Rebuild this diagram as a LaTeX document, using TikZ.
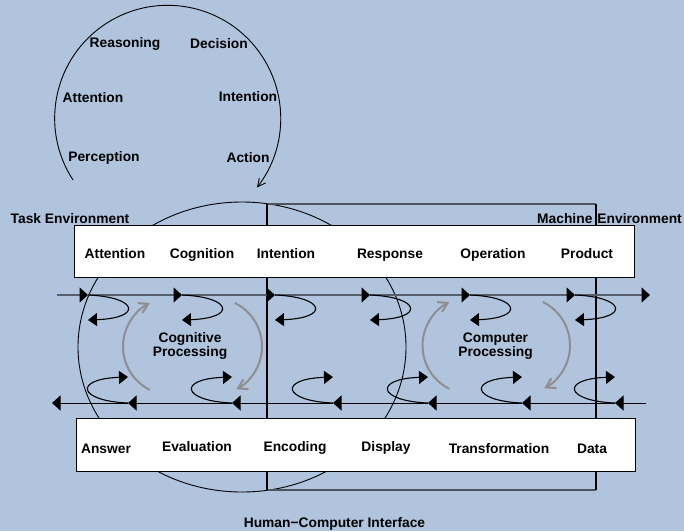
\documentclass[tikz,border=0pt]{standalone}
\usepackage{fontspec}
\setmainfont{Liberation Sans}
\usetikzlibrary{arrows.meta}
\definecolor{bgblue}{HTML}{B0C4DE}
\definecolor{railgray}{HTML}{56606C}
\definecolor{framegray}{HTML}{4C545E}
\definecolor{cyclegray}{HTML}{8E8E8E}
\begin{document}
\begin{tikzpicture}[x=1pt,y=-1pt,
  every node/.style={inner sep=0pt, font=\fontsize{13.8}{14}\selectfont\bfseries},
  lbl/.style={anchor=base},
  twoline/.style={anchor=base, align=center, font=\fontsize{13.8}{12}\selectfont\bfseries},
  stagebox/.style={draw=black, line width=0.9pt, fill=white},
  rail/.style={draw=railgray, line width=1.4pt},
  returnrail/.style={draw=black, line width=1pt},
  marker/.style={-{Triangle[length=8.5pt,width=15pt,color=black]}},
  loopline/.style={draw=black, line width=1.1pt, -{Triangle[length=9pt,width=13pt]}},
  cycle/.style={draw=cyclegray, line width=2pt, -{Straight Barb[length=9pt,width=11pt]}},
  outerloop/.style={draw=black, line width=0.9pt, -{Straight Barb[length=8pt,width=8pt]}}]

% canvas
\fill[bgblue] (0,0) rectangle (684,531);
\useasboundingbox (0,0) rectangle (684,531);

% ---- outer human cycle ----
\coordinate (cycstart) at (73,180);
\draw[outerloop] (cycstart) arc[start angle=146.9, end angle=397.8, radius=113];
\node[lbl] (reasoning)  at (125,47)  {Reasoning};
\node[lbl] (decision)   at (219,48)  {Decision};
\node[lbl] (attentionA) at (93,102)  {Attention};
\node[lbl] (intentionA) at (248,101) {Intention};
\node[lbl] (perception) at (104,161) {Perception};
\node[lbl] (action)     at (248,162) {Action};

% ---- environments ----
\draw[black, line width=0.9pt] (242,347) ellipse[x radius=164, y radius=145];
\draw[framegray, line width=1.6pt] (267,204) -- (596,204) (267,490) -- (596,490);
\draw[black, line width=1.1pt] (267,204) -- (267,490) (596,204) -- (596,490);

\node[lbl] (taskenv) at (70,223) {Task Environment};
\node[anchor=base east] (machenv) at (682,223) {Machine\hspace{1.2pt} Environment};
\node[lbl] (hci) at (334.5,527) {Human−Computer Interface};

% ---- stage boxes ----
\node[stagebox, minimum width=560pt, minimum height=52pt] (topbox) at (354,251) {};
\node[stagebox, minimum width=559pt, minimum height=53pt] (botbox) at (355.5,444.5) {};

\node[lbl] (sAttention) at (115,258) {Attention};
\node[lbl] (sCognition) at (202,258) {Cognition};
\node[lbl] (sIntention) at (286,258) {Intention};
\node[lbl] (sResponse)  at (390,258) {Response};
\node[lbl] (sOperation) at (493,258) {Operation};
\node[lbl] (sProduct)   at (587,258) {Product};

\node[lbl] (sAnswer)     at (106,453)   {Answer};
\node[lbl] (sEvaluation) at (197,451.5) {Evaluation};
\node[lbl] (sEncoding)   at (295,451.5) {Encoding};
\node[lbl] (sDisplay)    at (386,451.5) {Display};
\node[lbl] (sTransform)  at (499,453.5) {Transformation};
\node[lbl] (sData)       at (592,453)   {Data};

% ---- forward rail with feedback loops ----
\coordinate (tA) at (57,295);
\coordinate (tZ) at (650,295);
\foreach \i/\x in {1/88,2/182,3/275,4/370,5/470,6/575}{
  \coordinate (t\i) at (\x,295);
  \coordinate (u\i) at (\x,320);
}
\draw[rail, marker] (tA) -- (t1);
\foreach \a/\b in {1/2,2/3,3/4,4/5,5/6}
  \draw[rail, marker] (t\a) -- (t\b);
\draw[rail, marker] (t6) -- (tZ);
\foreach \i in {1,...,6}
  \draw[loopline] (t\i) .. controls +(50,2) and +(55,-2) .. (u\i);

% ---- return rail with feedback loops ----
\coordinate (bA) at (646,403);
\coordinate (bZ) at (52,403);
\foreach \i/\x in {1/128,2/232,3/333,4/428,5/522,6/615}{
  \coordinate (b\i) at (\x,403);
  \coordinate (v\i) at (\x,377);
}
\draw[returnrail, marker] (bA) -- (b6);
\foreach \a/\b in {6/5,5/4,4/3,3/2,2/1}
  \draw[returnrail, marker] (b\a) -- (b\b);
\draw[returnrail, marker] (b1) -- (bZ);
\foreach \i in {1,...,6}
  \draw[loopline] (b\i) .. controls +(-50,-2) and +(-55,2) .. (v\i);

% ---- processing cycles ----
\coordinate (cogL) at (171.5,346.5);
\coordinate (cogR) at (213.5,346.5);
\coordinate (cmpL) at (471,345.5);
\coordinate (cmpR) at (521.5,345.5);
\draw[cycle] (cogL) ++(116.6:48.5) arc[start angle=116.6, end angle=243.5, radius=48.5];
\draw[cycle] (cogR) ++(-64:48.5) arc[start angle=-64, end angle=62, radius=48.5];
\draw[cycle] (cmpL) ++(116.6:48.5) arc[start angle=116.6, end angle=243.5, radius=48.5];
\draw[cycle] (cmpR) ++(-64:48.5) arc[start angle=-64, end angle=62, radius=48.5];

\node[twoline] (cogproc) at (190,356) {Cognitive\\Processing};
\node[twoline] (cmpproc) at (495.5,356) {Computer\\Processing};
\end{tikzpicture}
\end{document}
